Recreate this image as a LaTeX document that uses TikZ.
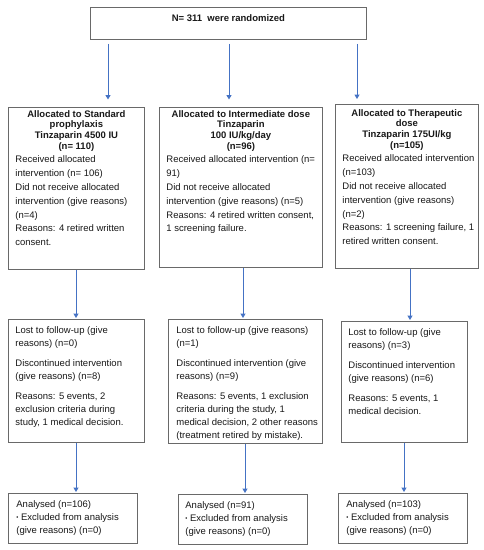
\documentclass[tikz,border=0pt]{standalone}
\usepackage{fontspec}
\setmainfont{Liberation Sans}
\usetikzlibrary{arrows.meta}
\definecolor{boxgray}{RGB}{105,105,105}
\definecolor{arrowblue}{RGB}{68,114,196}
\definecolor{txtcol}{RGB}{25,25,25}
\newcommand{\fsz}{\fontsize{9.5}{13.8}\selectfont}
\newcommand{\ttl}[1]{{\centering\bfseries\setlength{\baselineskip}{10.6pt}#1\par}}
\newcommand{\smallbul}{{\fontsize{6}{6}\selectfont\raisebox{0.6pt}{•}}}
\begin{document}
\begin{tikzpicture}[x=1pt,y=-1pt,
  box/.style={draw=boxgray, line width=0.8pt, inner sep=0pt, anchor=north west, fill=white, text=txtcol},
  arr/.style={draw=arrowblue, line width=1pt, -{Triangle[length=4.5pt,width=5pt]}}]
\useasboundingbox[fill=white] (0,0) rectangle (483,550);

% top box
\node[box] (top) at (90,7) {\parbox[t][32pt][t]{276pt}{\fsz\vspace*{7pt}{\centering\bfseries N= 311~ were randomized\par}}};

% row 1
\node[box] (a1) at (8,107) {\parbox[t][162pt][t]{136pt}{\fsz\vspace*{3pt}%
\ttl{Allocated to Standard\\prophylaxis\\Tinzaparin 4500 IU\\(n= 110)}%
\raggedright\leftskip=7pt Received allocated\\intervention (n= 106)\\Did not receive allocated\\intervention (give reasons)\\(n=4)\\Reasons: 4 retired written\\consent.\par}};

\node[box] (a2) at (159,107) {\parbox[t][160pt][t]{163pt}{\fsz\vspace*{3pt}%
\ttl{Allocated to Intermediate dose\\Tinzaparin\\100 IU/kg/day\\(n=96)}%
\raggedright\leftskip=7pt Received allocated intervention (n=\\91)\\Did not receive allocated\\intervention (give reasons) (n=5)\\Reasons: 4 retired written consent,\\1 screening failure.\par}};

\node[box] (a3) at (335,104) {\parbox[t][164pt][t]{143pt}{\fsz\vspace*{5pt}%
\ttl{Allocated to Therapeutic\\dose\\Tinzaparin 175UI/kg\\(n=105)}%
\raggedright\leftskip=7pt Received allocated intervention\\(n=103)\\Did not receive allocated\\intervention (give reasons)\\(n=2)\\Reasons: 1 screening failure, 1\\retired written consent.\par}};

% row 2
\node[box] (b1) at (8,319) {\parbox[t][123pt][t]{136pt}{\fontsize{9.5}{12.8}\selectfont\vspace*{7.2pt}%
\raggedright\leftskip=7pt Lost to follow-up (give\\reasons) (n=0)\\[7.5pt]Discontinued intervention\\(give reasons) (n=8)\\[7.5pt]Reasons: 5 events, 2\\exclusion criteria during\\study, 1 medical decision.\par}};

\node[box] (b2) at (168,319) {\parbox[t][124pt][t]{154pt}{\fontsize{9.5}{12.8}\selectfont\vspace*{7.2pt}%
\raggedright\leftskip=8pt Lost to follow-up (give reasons)\\(n=1)\\[7.5pt]Discontinued intervention (give\\reasons) (n=9)\\[7.5pt]Reasons: 5 events, 1 exclusion\\criteria during the study, 1\\medical decision, 2 other reasons\\(treatment retired by mistake).\par}};

\node[box] (b3) at (341,321) {\parbox[t][121pt][t]{126pt}{\fontsize{9.5}{12.8}\selectfont\vspace*{7.2pt}%
\raggedright\leftskip=7pt Lost to follow-up (give\\reasons) (n=3)\\[7.5pt]Discontinued intervention\\(give reasons) (n=6)\\[7.5pt]Reasons: 5 events, 1\\medical decision.\par}};

% row 3
\node[box] (c1) at (8,493) {\parbox[t][50pt][t]{129pt}{\fontsize{9.5}{13.3}\selectfont\vspace*{6.8pt}%
\raggedright\leftskip=8pt Analysed (n=106)\\\smallbul\ Excluded from analysis\\(give reasons) (n=0)\par}};

\node[box] (c2) at (178,494) {\parbox[t][50pt][t]{129pt}{\fontsize{9.5}{13.3}\selectfont\vspace*{6.8pt}%
\raggedright\leftskip=7pt Analysed (n=91)\\\smallbul\ Excluded from analysis\\(give reasons) (n=0)\par}};

\node[box] (c3) at (338,493) {\parbox[t][50pt][t]{129pt}{\fontsize{9.5}{13.3}\selectfont\vspace*{6.8pt}%
\raggedright\leftskip=8pt Analysed (n=103)\\\smallbul\ Excluded from analysis\\(give reasons) (n=0)\par}};

% arrow x positions
\coordinate (x1) at (108,0);
\coordinate (x2) at (229,0);
\coordinate (x3) at (357,0);
\coordinate (y1) at (76,0);
\coordinate (y2) at (243,0);
\coordinate (y3) at (410,0);
\coordinate (z1) at (76,0);
\coordinate (z2) at (245,0);
\coordinate (z3) at (404,0);

\draw[arr, shorten <=4pt, shorten >=7.5pt] (top.south -| x1) -- (a1.north -| x1);
\draw[arr, shorten <=4pt, shorten >=7.5pt] (top.south -| x2) -- (a2.north -| x2);
\draw[arr, shorten <=4pt, shorten >=5pt] (top.south -| x3) -- (a3.north -| x3);

\draw[arr, shorten >=1pt] (a1.south -| y1) -- (b1.north -| y1);
\draw[arr, shorten >=1pt] (a2.south -| y2) -- (b2.north -| y2);
\draw[arr, shorten >=1pt] (a3.south -| y3) -- (b3.north -| y3);

\draw[arr, shorten >=1pt] (b1.south -| z1) -- (c1.north -| z1);
\draw[arr, shorten >=1pt] (b2.south -| z2) -- (c2.north -| z2);
\draw[arr, shorten >=1pt] (b3.south -| z3) -- (c3.north -| z3);
\end{tikzpicture}
\end{document}
